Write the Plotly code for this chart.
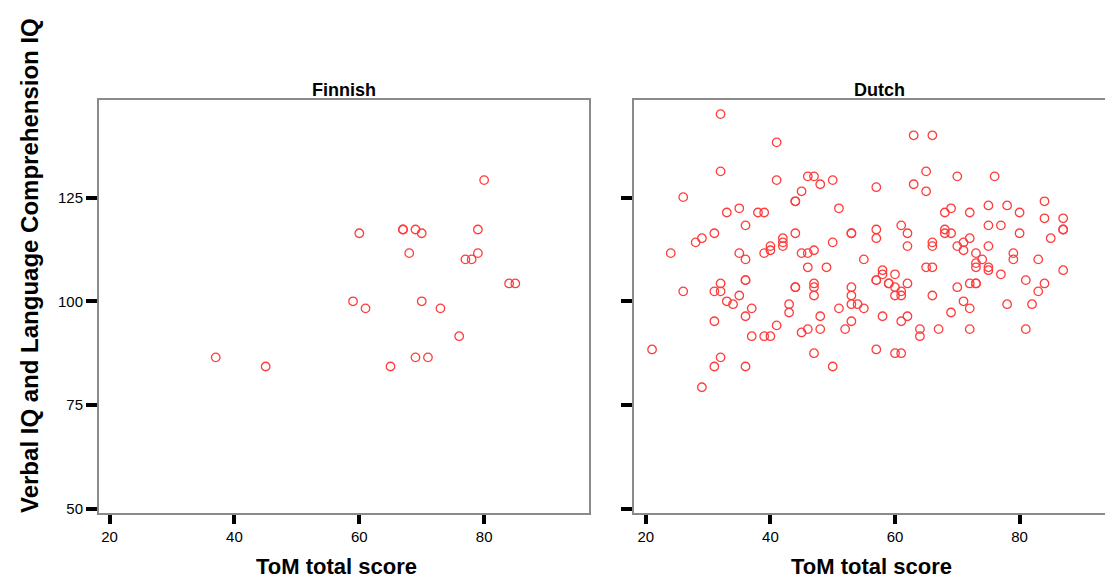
import plotly.graph_objects as go

# page body has an 8px margin, so the figure is drawn 8px smaller and all
# reference pixel positions are shifted by that offset
OFF = 8
W, H = 1113 - OFF, 579 - OFF

# ---- data ----
finnish_tom = [37, 45, 60, 59, 61, 65, 67, 67, 69, 70, 68, 70, 73, 69, 71, 76, 77, 78, 79, 79, 80, 84, 85]
finnish_iq = [86.5, 84.3, 116.4, 100, 98.3, 84.3, 117.3, 117.3, 117.3, 116.4, 111.6, 100, 98.3, 86.5, 86.5,
              91.6, 110.1, 110.1, 117.3, 111.6, 129.2, 104.3, 104.3]

dutch_tom = [32, 41, 63, 66, 32, 65, 41, 46, 47, 48, 50, 70, 76, 57, 63, 65, 45, 26, 44, 44, 84, 75, 78,
             35, 51, 69, 33, 38, 39, 68, 72, 80, 84, 87, 36, 61, 75, 77, 57, 68, 87, 87, 31, 44, 53, 53,
             62, 68, 69, 80, 29, 28, 42, 42, 42, 40, 40, 50, 57, 66, 66, 62, 70, 71, 71, 72, 75, 85,
             24, 35, 39, 45, 46, 47, 36, 55, 73, 79, 79, 74, 83, 73, 73, 46, 49, 65, 66, 75, 75, 87,
             58, 58, 60, 77, 36, 36, 57, 57, 59, 59, 60, 81, 32, 47, 47, 62, 72, 73, 73, 84, 44, 44,
             53, 70, 26, 31, 32, 83, 61, 35, 47, 53, 60, 61, 66, 33, 34, 71, 43, 53, 54, 78, 82, 37,
             51, 55, 72, 43, 69, 36, 48, 58, 62, 31, 53, 61, 41, 45, 46, 48, 52, 64, 67, 72, 81, 37,
             39, 40, 64, 21, 57, 32, 47, 60, 61, 31, 36, 50, 29]
dutch_iq = [145.1, 138.3, 140, 140, 131.3, 131.3, 129.2, 130.1, 130.1, 128.2, 129.2, 130.1, 130.1, 127.5,
            128.2, 126.5, 126.5, 125.1, 124.1, 124.1, 124.1, 123.1, 123.1, 122.4, 122.4, 122.4, 121.4,
            121.4, 121.4, 121.4, 121.4, 121.4, 120, 120, 118.3, 118.3, 118.3, 118.3, 117.3, 117.3, 117.3,
            117.3, 116.4, 116.4, 116.4, 116.4, 116.4, 116.4, 116.4, 116.4, 115.2, 114.2, 115.2, 114.2,
            113.3, 113.3, 112.3, 114.2, 115.2, 114.2, 113.3, 113.3, 113.3, 114.2, 112.3, 115.2, 113.3,
            115.2, 111.6, 111.6, 111.6, 111.6, 111.6, 112.3, 110.1, 110.1, 111.6, 111.6, 110.1, 110.1,
            110.1, 109.2, 108.2, 108.2, 108.2, 108.2, 108.2, 108.2, 107.5, 107.5, 107.5, 106.5, 106.5,
            106.5, 105.1, 105.1, 105.1, 105.1, 104.3, 104.3, 103.4, 105.1, 104.3, 104.3, 103.4, 104.3,
            104.3, 104.3, 104.3, 104.3, 103.4, 103.4, 103.4, 103.4, 102.4, 102.4, 102.4, 102.4, 102.4,
            101.4, 101.4, 101.4, 101.4, 101.4, 101.4, 100, 99.3, 100, 99.3, 99.3, 99.3, 99.3, 99.3, 98.3,
            98.3, 98.3, 98.3, 97.3, 97.3, 96.4, 96.4, 96.4, 96.4, 95.2, 95.2, 95.2, 94.2, 92.5, 93.3,
            93.3, 93.3, 93.3, 93.3, 93.3, 93.3, 91.6, 91.6, 91.6, 91.6, 88.4, 88.4, 86.5, 87.5, 87.5,
            87.5, 84.3, 84.3, 84.3, 79.3]

x_ticks = [20, 40, 60, 80]
y_ticks = [50, 75, 100, 125]
panel_titles = ["Finnish", "Dutch"]
x_title = "ToM total score"
y_title = "Verbal IQ and Language Comprehension IQ"

RED = "rgb(255,60,60)"
FONT = "Liberation Sans, Arial, sans-serif"


def px_x(p):
    return (p - OFF) / W


def px_y(p):
    return 1 - (p - OFF) / H


marker = dict(symbol="circle-open", size=8.5, color=RED, line=dict(width=1.3, color=RED))

fig = go.Figure()
fig.add_trace(go.Scatter(x=finnish_tom, y=finnish_iq, mode="markers", marker=marker,
                         xaxis="x", yaxis="y", showlegend=False))
fig.add_trace(go.Scatter(x=dutch_tom, y=dutch_iq, mode="markers", marker=marker,
                         xaxis="x2", yaxis="y2", showlegend=False))

ydom = [px_y(513), px_y(100)]
common_ax = dict(showgrid=False, zeroline=False, showline=True, linecolor="#8a8a8a", linewidth=2,
                 ticks="outside", tickcolor="black", tickwidth=4, automargin=False,
                 tickfont=dict(family=FONT, size=15, color="black"))

fig.update_layout(
    width=W, height=H, template="none",
    paper_bgcolor="white", plot_bgcolor="white",
    margin=dict(l=0, r=0, t=0, b=0),
    xaxis=dict(common_ax, domain=[px_x(99), px_x(589)], range=[18.3, 96.8], anchor="y",
               tickvals=x_ticks, ticklen=9, mirror=True),
    yaxis=dict(common_ax, domain=ydom, range=[49.0, 148.5], anchor="x",
               tickvals=y_ticks, ticklen=11, mirror=True),
    xaxis2=dict(common_ax, domain=[px_x(634), 1.0], range=[18.1, 95.0], anchor="y2",
                tickvals=x_ticks, ticklen=9, mirror=True),
    yaxis2=dict(common_ax, domain=ydom, range=[49.0, 148.5], anchor="x2",
                tickvals=y_ticks, ticklen=11, showticklabels=False, mirror=False),
)

ann = []
ann.append(dict(text=panel_titles[0], x=px_x(344), y=px_y(90),
                font=dict(family=FONT, size=18, color="black", weight="bold")))
ann.append(dict(text=panel_titles[1], x=px_x(879), y=px_y(90),
                font=dict(family=FONT, size=18, color="black", weight="bold")))
ann.append(dict(text=x_title, x=px_x(336), y=px_y(566),
                font=dict(family=FONT, size=22, color="black", weight="bold")))
ann.append(dict(text=x_title, x=px_x(871), y=px_y(566),
                font=dict(family=FONT, size=22, color="black", weight="bold")))
ann.append(dict(text=y_title, x=px_x(29), y=px_y(266), textangle=-90,
                font=dict(family=FONT, size=24, color="black", weight="bold")))
for a in ann:
    a.update(xref="paper", yref="paper", showarrow=False, xanchor="center", yanchor="middle")
fig.update_layout(annotations=ann)

fig.write_html("out.html")
